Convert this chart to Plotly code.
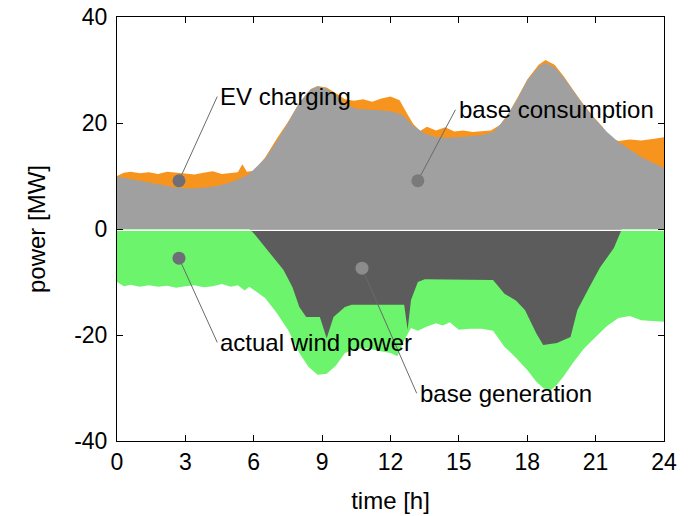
import plotly.graph_objects as go

# ---- data ----
t_total_cons = [0, 0.3, 0.6, 1, 1.4, 1.8, 2.2, 2.6, 3, 3.4, 3.8, 4.2, 4.6, 5, 5.3, 5.5, 5.7, 6,
                6.5, 7, 7.5, 8, 8.5, 8.8, 9.2, 9.6, 10, 10.4, 10.8, 11.2, 11.6, 12, 12.4, 12.7,
                13, 13.3, 13.6, 14, 14.4, 14.8, 15.2, 15.6, 16, 16.4, 16.8, 17.2, 17.6, 18, 18.5,
                18.8, 19.2, 19.6, 20, 20.5, 21, 21.3, 21.6, 22, 22.5, 23, 23.5, 24]
total_consumption = [10.0, 10.6, 10.8, 10.5, 10.7, 10.4, 10.8, 10.6, 10.5, 10.3, 10.6, 10.9, 10.4,
                     10.6, 10.7, 12.2, 10.8, 11.0,
                     13.5, 17.0, 20.2, 23.8, 26.4, 27.0, 26.7, 25.6, 24.5, 24.2, 24.5, 24.0, 24.6,
                     25.0, 24.3, 22.0, 19.8, 18.5, 19.3, 18.6, 19.2, 18.4, 18.6, 18.3, 18.5, 18.6,
                     19.6, 22.0, 25.0, 28.2, 31.0, 31.9, 31.0, 28.8, 26.3, 23.3, 20.7, 19.3, 17.2,
                     16.6, 16.9, 16.7, 17.0, 17.3]

t_base_cons = [0, 0.5, 1, 1.5, 2, 2.5, 3, 3.5, 4, 4.5, 5, 5.5, 5.8, 6.5, 7, 7.5, 8, 8.5, 8.8, 9.2,
               9.6, 10, 10.5, 11, 11.5, 12, 12.5, 13, 13.5, 14, 14.5, 15, 15.5, 16, 16.5, 17,
               17.5, 18, 18.5, 18.8, 19.2, 19.6, 20, 20.5, 21, 21.5, 22, 22.5, 23, 23.5, 24]
base_consumption = [9.9, 9.5, 9.1, 8.7, 8.2, 7.9, 7.7, 7.7, 7.9, 8.2, 8.8, 9.7, 10.4, 13.3, 16.5,
                    20.0, 23.8, 26.3, 26.9, 26.5, 25.2, 23.5, 22.7, 22.6, 22.4, 22.2, 21.6, 19.5,
                    18.0, 17.3, 17.2, 17.3, 17.5, 17.7, 18.3, 20.6, 24.0, 28.0, 30.6, 31.3, 30.5,
                    28.6, 26.2, 23.2, 20.6, 18.3, 16.4, 15.0, 13.6, 12.5, 11.5]

t_total_gen = [0, 0.3, 0.6, 1, 1.4, 1.8, 2.2, 2.6, 3, 3.4, 3.8, 4.2, 4.6, 5, 5.3, 5.6, 5.8, 6,
               6.5, 7, 7.5, 8, 8.4, 8.8, 9.2, 9.6, 10, 10.5, 11, 11.5, 12, 12.3, 12.6, 12.9, 13.2,
               13.6, 14, 14.3, 14.6, 15, 15.5, 16, 16.5, 17, 17.5, 18, 18.4, 18.7, 19, 19.3,
               19.6, 20, 20.5, 21, 21.5, 22, 22.5, 23, 23.5, 24]
total_generation = [-10.0, -10.8, -10.5, -10.9, -10.6, -10.9, -10.7, -11.1, -10.8, -10.6, -11.0,
                    -10.8, -10.4, -10.9, -10.6, -11.6, -10.9, -11.5,
                    -13.0, -15.8, -19.0, -23.4, -26.0, -27.5, -27.3, -25.8, -23.4, -22.6, -22.5,
                    -23.0, -23.4, -24.0, -21.0, -18.7, -19.2, -18.4, -17.8, -18.2, -17.6, -19.0,
                    -18.8, -18.8, -19.2, -22.2, -24.3, -26.6, -28.8, -30.0, -30.5, -29.4, -27.8,
                    -25.3, -22.5, -20.4, -18.3, -16.8, -16.4, -17.2, -17.3, -17.5]

t_base_gen = [0, 5.8, 6, 6.5, 7, 7.3, 7.7, 8, 8.3, 8.9, 9.2, 9.5, 10, 10.3, 12.6, 12.75, 12.9,
              13.2, 13.5, 16.5, 17, 17.5, 17.9, 18.4, 18.7, 19.3, 19.9, 20.2, 20.7, 21.2, 21.8,
              22.15, 24]
base_generation = [0, 0, -0.8, -3.4, -6.0, -7.7, -11.0, -14.7, -16.6, -16.6, -20.6, -16.6, -14.7,
                   -14.3, -14.3, -19.0, -13.4, -10.0, -9.5, -9.6, -12.2, -13.5, -15.3, -19.7,
                   -21.9, -21.5, -20.4, -15.3, -11.2, -7.2, -3.6, 0, 0]

labels = ["EV charging", "base consumption", "actual wind power", "base generation"]
marker_t = [2.72, 13.2, 2.72, 10.75]
marker_v = [9.1, 9.1, -5.5, -7.4]
label_t = [4.45, 14.9, 4.45, 13.2]
label_v = [25.0, 22.5, -21.4, -31.0]
marker_colors = ["#6e6e78", "#7a7a7a", "#6e6e78", "#8c8c8c"]

x_ticks = [0, 3, 6, 9, 12, 15, 18, 21, 24]
y_ticks = [-40, -20, 0, 20, 40]

# ---- figure ----
fig = go.Figure()

fig.add_trace(go.Scatter(x=t_total_cons, y=total_consumption, mode="lines", fill="tozeroy",
                         line=dict(width=0, color="#f7941e"), fillcolor="#f7941e"))
fig.add_trace(go.Scatter(x=t_base_cons, y=base_consumption, mode="lines", fill="tozeroy",
                         line=dict(width=0, color="#a0a0a0"), fillcolor="#a0a0a0"))
fig.add_trace(go.Scatter(x=t_total_gen, y=total_generation, mode="lines", fill="tozeroy",
                         line=dict(width=0, color="#6cf46c"), fillcolor="#6cf46c"))
fig.add_trace(go.Scatter(x=t_base_gen, y=base_generation, mode="lines", fill="tozeroy",
                         line=dict(width=0, color="#5c5c5c"), fillcolor="#5c5c5c"))
# thin white separator at zero
fig.add_trace(go.Scatter(x=[0, 24], y=[-0.25, -0.25], mode="lines",
                         line=dict(width=1.5, color="white")))

for i in range(len(labels)):
    fig.add_trace(go.Scatter(x=[marker_t[i], label_t[i] - 0.05], y=[marker_v[i], label_v[i]],
                             mode="lines", line=dict(width=1, color="#6a6a6a")))
    fig.add_trace(go.Scatter(x=[marker_t[i]], y=[marker_v[i]], mode="markers",
                             marker=dict(size=13, color=marker_colors[i])))
    fig.add_annotation(x=label_t[i], y=label_v[i], text=labels[i], showarrow=False,
                       xanchor="left", yanchor="middle",
                       font=dict(size=24, color="black", family="Liberation Sans, Arial"))

axis_common = dict(showline=True, linecolor="black", linewidth=1, mirror="ticks",
                   ticks="inside", ticklen=6, tickcolor="black", showgrid=False, zeroline=False,
                   automargin=False, ticklabeloverflow="allow",
                   tickfont=dict(size=23, color="black", family="Liberation Sans, Arial"))

fig.update_xaxes(range=[0, 24], tickvals=x_ticks, ticktext=[str(v) for v in x_ticks],
                 title=dict(text="time [h]", standoff=18,
                            font=dict(size=24, color="black", family="Liberation Sans, Arial")),
                 **axis_common)
fig.update_yaxes(range=[-40, 40], tickvals=y_ticks, ticktext=[str(v) for v in y_ticks],
                 title=dict(text="power [MW]", standoff=21,
                            font=dict(size=24, color="black", family="Liberation Sans, Arial")),
                 ticklabelstandoff=4, **axis_common)

# page body adds an 8px offset; figure is sized so the plot box lands where the reference has it
fig.update_layout(width=681, height=508, showlegend=False,
                  margin=dict(l=109, r=25, t=9, b=75),
                  paper_bgcolor="white", plot_bgcolor="white")

fig.write_html("out.html")
